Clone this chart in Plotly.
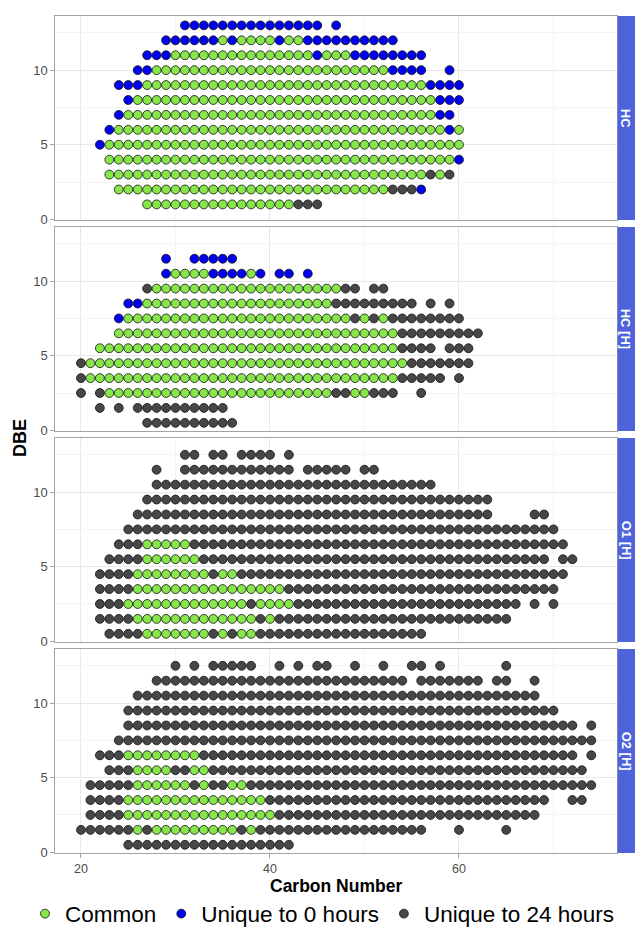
import plotly.graph_objects as go

# Class codes used in the row tables below
CLASS_NAMES = {"c": "Common", "0": "Unique to 0 hours", "24": "Unique to 24 hours"}
CLASS_ORDER = ["c", "0", "24"]
CLASS_COLORS = {"c": "#86E64A", "0": "#0000F2", "24": "#474747"}

PANELS = ["HC", "HC [H]", "O1 [H]", "O2 [H]"]

# Each row: DBE -> list of (first carbon number, last carbon number, class code)
HC_ROWS = {
    13: [(31, 45, "0"), (47, 47, "0")],
    12: [(29, 34, "0"), (35, 35, "c"), (36, 36, "0"), (37, 40, "c"), (41, 41, "0"),
         (42, 43, "c"), (44, 53, "0")],
    11: [(27, 29, "0"), (30, 44, "c"), (45, 45, "0"), (46, 48, "c"), (49, 56, "0")],
    10: [(26, 27, "0"), (28, 52, "c"), (53, 56, "0"), (59, 59, "0")],
    9: [(24, 26, "0"), (27, 56, "c"), (57, 60, "0")],
    8: [(25, 25, "0"), (26, 57, "c"), (58, 60, "0")],
    7: [(24, 24, "0"), (25, 57, "c"), (58, 59, "0")],
    6: [(23, 23, "0"), (24, 58, "c"), (59, 59, "0"), (60, 60, "c")],
    5: [(22, 22, "0"), (23, 60, "c")],
    4: [(23, 59, "c"), (60, 60, "0")],
    3: [(23, 56, "c"), (57, 57, "24"), (58, 58, "c"), (59, 59, "24")],
    2: [(24, 52, "c"), (53, 55, "24"), (56, 56, "0")],
    1: [(27, 42, "c"), (43, 45, "24")],
}

HC_H_ROWS = {
    11.5: [(29, 29, "0"), (32, 36, "0")],
    10.5: [(29, 29, "0"), (30, 33, "c"), (34, 37, "0"), (38, 38, "c"), (39, 39, "0"),
           (41, 42, "0"), (44, 44, "0")],
    9.5: [(27, 27, "24"), (28, 47, "c"), (48, 49, "24"), (51, 52, "24")],
    8.5: [(25, 26, "0"), (27, 46, "c"), (47, 55, "24"), (57, 57, "24"), (59, 59, "24")],
    7.5: [(24, 24, "0"), (25, 48, "c"), (49, 49, "24"), (50, 50, "c"), (51, 51, "24"),
          (52, 52, "c"), (53, 60, "24")],
    6.5: [(24, 53, "c"), (54, 62, "24")],
    5.5: [(22, 53, "c"), (54, 57, "24"), (59, 61, "24")],
    4.5: [(20, 20, "24"), (21, 54, "c"), (55, 61, "24")],
    3.5: [(20, 20, "24"), (21, 53, "c"), (54, 58, "24"), (60, 60, "24")],
    2.5: [(20, 20, "24"), (22, 22, "24"), (23, 46, "c"), (47, 48, "24"), (49, 50, "c"),
          (51, 53, "24"), (56, 56, "24")],
    1.5: [(22, 22, "24"), (24, 24, "24"), (26, 35, "24")],
    0.5: [(27, 36, "24")],
}

O1_H_ROWS = {
    12.5: [(31, 32, "24"), (34, 35, "24"), (37, 40, "24"), (42, 42, "24")],
    11.5: [(28, 28, "24"), (31, 42, "24"), (44, 48, "24"), (50, 51, "24")],
    10.5: [(28, 57, "24")],
    9.5: [(27, 63, "24")],
    8.5: [(26, 63, "24"), (68, 69, "24")],
    7.5: [(25, 70, "24")],
    6.5: [(24, 26, "24"), (27, 31, "c"), (32, 71, "24")],
    5.5: [(23, 26, "24"), (27, 32, "c"), (33, 69, "24"), (71, 72, "24")],
    4.5: [(22, 25, "24"), (26, 33, "c"), (34, 34, "24"), (35, 36, "c"), (37, 71, "24")],
    3.5: [(22, 25, "24"), (26, 41, "c"), (42, 70, "24")],
    2.5: [(22, 24, "24"), (25, 37, "c"), (38, 38, "24"), (39, 42, "c"), (43, 66, "24"),
          (68, 68, "24"), (70, 70, "24")],
    1.5: [(22, 25, "24"), (26, 38, "c"), (39, 39, "24"), (40, 40, "c"), (41, 65, "24")],
    0.5: [(23, 26, "24"), (27, 33, "c"), (34, 34, "24"), (35, 35, "c"), (36, 36, "24"),
          (37, 38, "c"), (39, 56, "24")],
}

O2_H_ROWS = {
    12.5: [(30, 30, "24"), (32, 32, "24"), (34, 38, "24"), (41, 41, "24"), (43, 43, "24"),
           (45, 46, "24"), (49, 49, "24"), (52, 52, "24"), (55, 56, "24"), (58, 58, "24"),
           (65, 65, "24")],
    11.5: [(28, 54, "24"), (56, 62, "24"), (64, 65, "24"), (68, 68, "24")],
    10.5: [(26, 68, "24")],
    9.5: [(25, 70, "24")],
    8.5: [(25, 72, "24"), (74, 74, "24")],
    7.5: [(24, 74, "24")],
    6.5: [(22, 24, "24"), (25, 32, "c"), (33, 72, "24"), (74, 74, "24")],
    5.5: [(23, 25, "24"), (26, 29, "c"), (30, 31, "24"), (32, 33, "c"), (34, 73, "24")],
    4.5: [(21, 25, "24"), (26, 31, "c"), (32, 32, "24"), (33, 33, "c"), (34, 35, "24"),
          (36, 37, "c"), (38, 74, "24")],
    3.5: [(21, 24, "24"), (25, 39, "c"), (40, 69, "24"), (72, 73, "24")],
    2.5: [(21, 24, "24"), (25, 40, "c"), (41, 68, "24")],
    1.5: [(20, 25, "24"), (26, 26, "c"), (27, 27, "24"), (28, 36, "c"), (37, 37, "24"),
          (38, 38, "c"), (39, 56, "24"), (60, 60, "24"), (65, 65, "24")],
    0.5: [(25, 42, "24")],
}

PANEL_ROWS = [HC_ROWS, HC_H_ROWS, O1_H_ROWS, O2_H_ROWS]

X_TICKS = [20, 40, 60]
X_MINOR = [30, 50, 70]
Y_TICKS = [0, 5, 10]
Y_MINOR = [2.5, 7.5, 12.5]
X_RANGE = [17.25, 76.72]
Y_RANGE = [-0.05, 13.63]

FONT = "Liberation Sans, Arial, sans-serif"
W, H = 635, 927
M_L, M_R, M_T, M_B = 55, 18, 16, 74
PLOT_W = W - M_L - M_R
PLOT_H = H - M_T - M_B
GAP_PX = 6.9
PANEL_PX = (PLOT_H - 3 * GAP_PX) / 4

BORDER = "#a3a3a3"
GRID = "#e8e8e8"
GRID_MINOR = "#f4f4f4"
STRIP = "#4E62DA"


def points(rows, code):
    xs, ys = [], []
    for dbe, runs in rows.items():
        for first, last, cls in runs:
            if cls == code:
                for carbon in range(first, last + 1):
                    xs.append(carbon)
                    ys.append(dbe)
    return xs, ys


fig = go.Figure()
layout = dict(
    width=W, height=H,
    margin=dict(l=M_L, r=M_R, t=M_T, b=M_B, autoexpand=False),
    paper_bgcolor="white", plot_bgcolor="white",
    font=dict(family=FONT, color="#4d4d4d", size=13),
    showlegend=True,
    legend=dict(
        orientation="h", x=(25 - M_L) / PLOT_W, xanchor="left",
        y=-(914 - (H - M_B)) / PLOT_H, yanchor="middle",
        font=dict(family=FONT, size=22.5, color="black"),
        bgcolor="rgba(0,0,0,0)", itemclick=False, itemdoubleclick=False,
    ),
)

shapes, annotations = [], []
for k, (name, rows) in enumerate(zip(PANELS, PANEL_ROWS)):
    top_px = k * (PANEL_PX + GAP_PX)
    y1 = 1 - top_px / PLOT_H
    y0 = 1 - (top_px + PANEL_PX) / PLOT_H
    idx = "" if k == 0 else str(k + 1)
    xname, yname = "x" + idx, "y" + idx
    bottom = k == len(PANELS) - 1

    for code in CLASS_ORDER:
        xs, ys = points(rows, code)
        fig.add_trace(go.Scatter(
            x=xs, y=ys, mode="markers", xaxis=xname, yaxis=yname,
            name=CLASS_NAMES[code], legendgroup=code, showlegend=(k == 0),
            marker=dict(size=8.9, color=CLASS_COLORS[code],
                        line=dict(color="#121212", width=0.8)),
            hoverinfo="x+y+name",
        ))

    layout["xaxis" + idx] = dict(
        domain=[0, 1], range=X_RANGE, anchor=yname,
        tickvals=X_TICKS, ticktext=[str(v) for v in X_TICKS],
        showticklabels=bottom, ticks="outside" if bottom else "",
        ticklen=3.6, tickcolor=BORDER, tickwidth=1,
        showgrid=True, gridcolor=GRID, gridwidth=1,
        minor=dict(tickvals=X_MINOR, showgrid=True, gridcolor=GRID_MINOR, gridwidth=0.8),
        showline=True, mirror=True, linecolor=BORDER, linewidth=1.2,
        zeroline=False, tickfont=dict(size=12.5, color="#4d4d4d"),
        **({} if k == 0 else {"matches": "x"}),
    )
    layout["yaxis" + idx] = dict(
        domain=[y0, y1], range=Y_RANGE, anchor=xname,
        tickvals=Y_TICKS, ticktext=[str(v) for v in Y_TICKS],
        ticks="outside", ticklen=3.6, tickcolor=BORDER, tickwidth=1,
        showgrid=True, gridcolor=GRID, gridwidth=1,
        minor=dict(tickvals=Y_MINOR, showgrid=True, gridcolor=GRID_MINOR, gridwidth=0.8),
        showline=True, mirror=True, linecolor=BORDER, linewidth=1.2,
        zeroline=False, tickfont=dict(size=13, color="#4d4d4d"),
    )

    # facet strip on the right-hand side
    shapes.append(dict(type="rect", xref="paper", yref="paper",
                       x0=1.0 + 0.6 / PLOT_W, x1=1.0 + M_R / PLOT_W, y0=y0, y1=y1,
                       fillcolor=STRIP, line=dict(width=0), layer="above"))
    annotations.append(dict(xref="paper", yref="paper", x=1.0 + 9.3 / PLOT_W,
                            y=(y0 + y1) / 2, text="<b>%s</b>" % name, showarrow=False,
                            textangle=90, xanchor="center", yanchor="middle",
                            font=dict(family=FONT, size=13, color="white")))

annotations.append(dict(xref="paper", yref="paper", x=(20 - M_L) / PLOT_W,
                        y=1 - (438 - M_T) / PLOT_H, text="<b>DBE</b>", showarrow=False,
                        textangle=-90, xanchor="center", yanchor="middle",
                        font=dict(family=FONT, size=18, color="black")))
annotations.append(dict(xref="paper", yref="paper", x=0.5,
                        y=-(886 - (H - M_B)) / PLOT_H, text="<b>Carbon Number</b>",
                        showarrow=False, xanchor="center", yanchor="middle",
                        font=dict(family=FONT, size=17.5, color="black")))

layout["shapes"] = shapes
layout["annotations"] = annotations
fig.update_layout(**layout)

fig.write_html("out.html")
